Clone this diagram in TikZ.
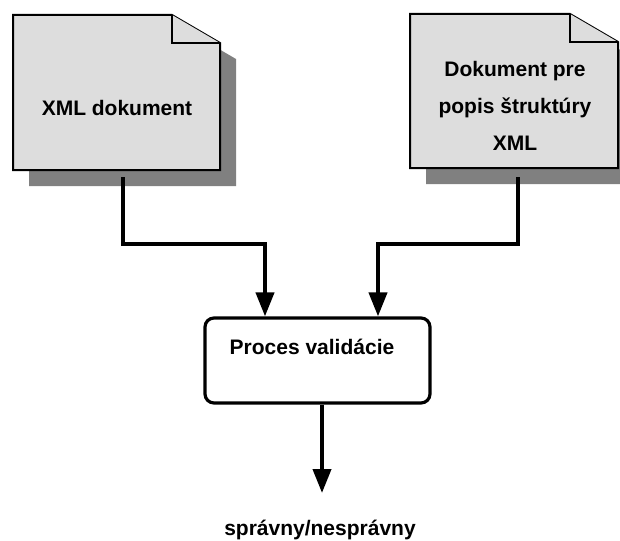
\documentclass[tikz,border=0pt]{standalone}
\usepackage{fontspec}
\setmainfont{Liberation Sans}
\usetikzlibrary{positioning}
\usetikzlibrary{calc}
\usetikzlibrary{arrows.meta}
\definecolor{docgray}{RGB}{221,221,221}
\definecolor{shadowgray}{RGB}{128,128,128}

% document outline with folded corner: x1,y1,x2,y2
\newcommand{\docoutline}[4]{(#1,#2) -- (#3-48,#2) -- (#3,#2+28) -- (#3,#4) -- (#1,#4) -- cycle}
\newcommand{\docfold}[2]{(#1-48,#2) -- (#1-48,#2+28) -- (#1,#2+28)}

\begin{document}
\begin{tikzpicture}[
    x=1pt, y=-1pt,
    docbox/.style={draw=black, line width=2pt, fill=docgray, line join=miter},
    docshadow/.style={fill=shadowgray, draw=none},
    procbox/.style={rectangle, draw=black, line width=3.2pt, rounded corners=9pt, fill=white,
                    minimum width=225pt, minimum height=85pt, inner sep=0pt},
    lbl/.style={font=\fontsize{21}{37}\selectfont\bfseries, align=center, inner sep=0pt},
    conn/.style={line width=4pt, -{Triangle[length=24pt,width=18pt]}}
]
    \useasboundingbox (0,0) rectangle (620,540);

    % shadows
    \fill[docshadow] \docoutline{29}{31}{236}{186};
    \fill[docshadow] \docoutline{426}{30}{634}{184};

    % documents
    \draw[docbox] \docoutline{13}{15}{220}{170};
    \draw[docbox] \docfold{220}{15};
    \draw[docbox] \docoutline{410}{14}{618}{168};
    \draw[docbox] \docfold{618}{14};

    \node[lbl] (xmldoc) at (117,108) {XML dokument};
    \node[lbl] (schemadoc) at (515,106) {Dokument pre\\popis štruktúry\\XML};
    \coordinate (xmlout) at (123,177);
    \coordinate (schemaout) at (518,177);

    % validation process
    \node[procbox] (proc) at (317.5,360.5) {};
    \node[lbl, anchor=center] (proctext) at (312,347) {Proces validácie};

    \draw[conn] (xmlout) -- ++(0,67) -| ([xshift=-52.5pt]proc.north);
    \draw[conn] (schemaout) -- ++(0,67) -| ([xshift=60.5pt]proc.north);

    % result
    \coordinate (resulttip) at (322,493);
    \node[lbl] (result) at (320,530) {správny/nesprávny};
    \draw[conn] ([xshift=4.5pt]proc.south) -- (resulttip);
\end{tikzpicture}
\end{document}
